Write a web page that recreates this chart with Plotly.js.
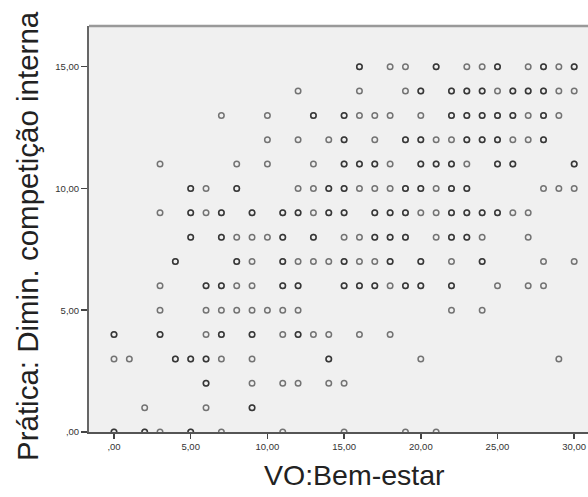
<!DOCTYPE html>
<html>
<head>
<meta charset="utf-8">
<script src="https://cdn.plot.ly/plotly-3.0.1.min.js"></script>
<style>html,body{margin:0;padding:0;background:#fff;}#chart{width:588px;height:497px;}</style>
</head>
<body>
<div id="chart"></div>
<script>
// x values (VO:Bem-estar) present at each y level (Prática: Dimin. competição interna)
const row15 = [16,18,19,21,23,24,25,27,28,29,30];
const row14 = [12,16,19,20,22,23,24,25,26,27,28,29,30];
const row13 = [7,10,13,15,16,17,18,20,22,23,24,25,26,27,28,29];
const row12 = [10,12,14,15,17,19,20,21,22,23,24,25,26,27,28];
const row11 = [3,8,10,13,15,16,17,18,20,21,22,23,25,26,30];
const row10 = [5,6,8,12,13,14,15,16,17,18,19,20,21,22,23,28,29,30];
const row9  = [3,5,6,7,9,11,12,13,14,15,17,18,19,20,21,22,23,24,25,26,27];
const row8  = [5,7,8,9,10,11,13,15,16,17,18,19,21,22,23,24,27];
const row7  = [4,8,9,11,12,13,14,15,16,17,18,20,22,24,28,30];
const row6  = [3,6,7,8,9,11,12,15,16,17,18,19,20,22,25,27,28];
const row5  = [3,6,7,8,9,10,11,12,22,24];
const row4  = [0,3,6,7,9,11,12,13,14,16,18];
const row3  = [0,1,4,5,6,7,9,14,20,29];
const row2  = [6,9,11,12,14,15];
const row1  = [2,6,9];
const row0  = [0,2,3,5,7,11,15,19,21];

// x values where several cases overlap (drawn darker)
const dup15 = [16,21,25,28,30];
const dup14 = [20,22,23,24,26,27,28];
const dup13 = [13,15,22,23,24,25,26,28];
const dup12 = [15,19,20,23,24,25,28];
const dup11 = [15,16,17,20,21,22,25,26,30];
const dup10 = [5,8,14,15,19,20,22,23];
const dup9  = [5,7,9,11,12,14,15,17,18,19,22,23,24,25];
const dup8  = [5,7,11,13,17,18,19,22,23];
const dup7  = [4,8,11,15,18,20,24];
const dup6  = [6,7,11,12,15,16,17,19,20,22];
const dup5  = [];
const dup4  = [0,3,7,9,12];
const dup3  = [4,5,6,14];
const dup2  = [6];
const dup1  = [9];
const dup0  = [0,2,5];

const xTickVals = [0,5,10,15,20,25,30];
const xTickText = [',00','5,00','10,00','15,00','20,00','25,00','30,00'];
const yTickVals = [0,5,10,15];
const yTickText = [',00','5,00','10,00','15,00'];

const rows = [row0,row1,row2,row3,row4,row5,row6,row7,row8,row9,row10,row11,row12,row13,row14,row15];
const dups = [dup0,dup1,dup2,dup3,dup4,dup5,dup6,dup7,dup8,dup9,dup10,dup11,dup12,dup13,dup14,dup15];

const xs = [], ys = [];
rows.forEach((r, yv) => { r.forEach(xv => { xs.push(xv); ys.push(yv); }); });
dups.forEach((r, yv) => { r.forEach(xv => { xs.push(xv); ys.push(yv); }); });

const trace = {
  type: 'scatter', mode: 'markers', x: xs, y: ys,
  marker: {symbol: 'circle-open', size: 5.5, color: 'rgba(0,0,0,0.52)', line: {width: 1.5}},
  hoverinfo: 'x+y', showlegend: false
};

const tickFont = {family: 'Liberation Sans, Arial, sans-serif', size: 9.5, color: '#333'};
const xTitleFont = {family: 'Liberation Sans, Arial, sans-serif', size: 28.5, color: '#222'};
const yTitleFont = {family: 'Liberation Sans, Arial, sans-serif', size: 29.5, color: '#222'};

const layout = {
  width: 588, height: 497,
  margin: {l: 89, r: 0, t: 26, b: 65},
  paper_bgcolor: '#ffffff', plot_bgcolor: '#f0f0f0',
  xaxis: {range: [-1.63, 30.9], tickvals: xTickVals, ticktext: xTickText, ticks: 'outside', ticklen: 5,
          tickwidth: 1.5, tickcolor: '#444', showline: true, linecolor: '#555', linewidth: 1.5,
          showgrid: false, zeroline: false, tickfont: tickFont, fixedrange: true},
  yaxis: {range: [0, 16.67], tickvals: yTickVals, ticktext: yTickText, ticks: 'outside', ticklen: 6,
          tickwidth: 1.5, tickcolor: '#444', showline: true, linecolor: '#666', linewidth: 2,
          showgrid: false, zeroline: false, tickfont: tickFont, fixedrange: true},
  shapes: [{type: 'line', xref: 'paper', yref: 'paper', x0: 0, x1: 1, y0: 1, y1: 1,
            line: {color: '#999', width: 2.5}}],
  annotations: [
    {text: 'VO:Bem-estar', xref: 'paper', yref: 'paper', x: 0.533, y: -0.105,
     xanchor: 'center', yanchor: 'middle', showarrow: false, font: xTitleFont},
    {text: 'Prática: Dimin. competição interna', xref: 'paper', yref: 'paper', x: -0.122, y: 0.483,
     xanchor: 'center', yanchor: 'middle', textangle: -90, showarrow: false, font: yTitleFont}
  ]
};

Plotly.newPlot('chart', [trace], layout, {displayModeBar: false, staticPlot: true});
</script>
</body>
</html>
